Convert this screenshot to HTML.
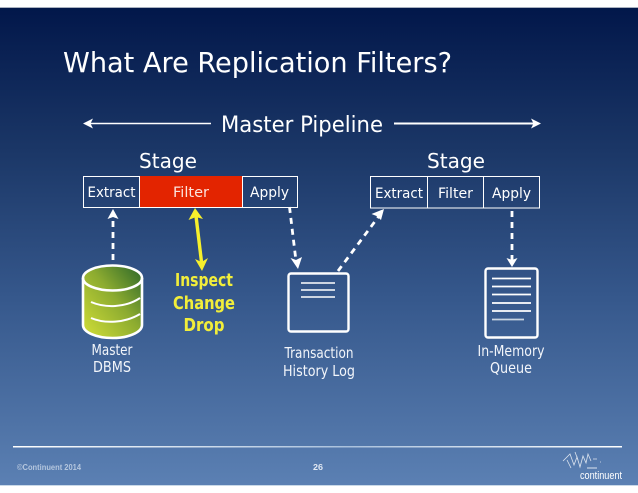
<!DOCTYPE html>
<html><head><meta charset="utf-8"><style>
html,body{margin:0;padding:0;background:#fff}
svg{display:block}
text{font-family:"DejaVu Sans","Liberation Sans",sans-serif}
.g{font-family:"Liberation Sans",sans-serif}
</style></head><body>
<svg width="638" height="493" viewBox="0 0 638 493" xmlns="http://www.w3.org/2000/svg">
<defs>
<linearGradient id="bg" x1="0" y1="0" x2="0" y2="1">
<stop offset="0" stop-color="#02174a"/><stop offset=".3" stop-color="#1b3767"/><stop offset=".6" stop-color="#35578b"/><stop offset="1" stop-color="#5b80b3"/>
</linearGradient>
<linearGradient id="cyl" x1="0" y1="1" x2="1" y2="0">
<stop offset="0" stop-color="#d4e038"/><stop offset=".55" stop-color="#8cab30"/><stop offset="1" stop-color="#2a6629"/>
</linearGradient>
<linearGradient id="fl" x1="0" y1="0" x2="1" y2="0">
<stop offset="0" stop-color="#fff"/><stop offset=".55" stop-color="#a9c0dc"/><stop offset="1" stop-color="#fff"/>
</linearGradient>
</defs>
<rect width="638" height="493" fill="#fff"/>
<rect y="7" width="638" height="1" fill="#aab2c0"/>
<rect y="8" width="638" height="477" fill="url(#bg)"/>
<rect y="485" width="638" height="1" fill="#c9d9e8"/>

<text x="63" y="72" font-size="28" fill="#fff" textLength="389" lengthAdjust="spacingAndGlyphs">What Are Replication Filters?</text>

<g stroke="#fff" fill="none">
<path d="M88 123.500H211" stroke-width="1.400"/>
<path d="M394 123.500H536" stroke-width="2"/>
</g>
<path d="M83 123.500L93 118.500L90.500 123.500L93 128.500Z" fill="#fff"/>
<path d="M541 123.500L531 118.500L533.500 123.500L531 128.500Z" fill="#fff"/>
<text x="221" y="132" font-size="22" fill="#fff" textLength="162" lengthAdjust="spacingAndGlyphs">Master Pipeline</text>

<text x="139" y="168" font-size="20" fill="#fff" textLength="58" lengthAdjust="spacingAndGlyphs">Stage</text>
<text x="427" y="168" font-size="20" fill="#fff" textLength="58" lengthAdjust="spacingAndGlyphs">Stage</text>

<rect x="83.500" y="176.500" width="214" height="31" fill="none" stroke="#fff"/>
<rect x="139" y="176" width="103" height="31" fill="#e32400"/>
<path d="M139.500 176V207M242.500 176V207" stroke="#fff"/>
<text x="87.500" y="197" font-size="14.500" fill="#fff" textLength="48" lengthAdjust="spacingAndGlyphs">Extract</text>
<text x="173" y="197" font-size="14.500" fill="#fbe3dc" textLength="36" lengthAdjust="spacingAndGlyphs">Filter</text>
<text x="250" y="197" font-size="14.500" fill="#fff" textLength="39" lengthAdjust="spacingAndGlyphs">Apply</text>

<rect x="370.500" y="176.500" width="169" height="31.500" fill="none" stroke="#fff"/>
<path d="M427.500 176V208M483.500 176V208" stroke="#fff"/>
<text x="375" y="198" font-size="14.500" fill="#fff" textLength="48" lengthAdjust="spacingAndGlyphs">Extract</text>
<text x="438" y="198" font-size="14.500" fill="#fff" textLength="35" lengthAdjust="spacingAndGlyphs">Filter</text>
<text x="492" y="198" font-size="14.500" fill="#fff" textLength="39" lengthAdjust="spacingAndGlyphs">Apply</text>

<g stroke="#fff" stroke-width="2.800" fill="none" stroke-dasharray="6 5">
<path d="M113 260V217"/>
<path d="M289.500 207L296 261"/>
<path d="M338 271L379 216"/>
<path d="M512 211V261"/>
</g>
<g fill="#fff">
<path d="M113 209L118.500 219L113 217L107.500 219Z"/>
<path d="M298 269L290.500 258L296 260L302 257Z"/>
<path d="M384 209L381 220L376.500 216L371.500 214Z"/>
<path d="M512 267L506.500 258L512 260L517.500 258Z"/>
</g>

<path d="M196 216L201.500 262" stroke="#f6f02c" stroke-width="3.400" fill="none"/>
<path d="M195 208L203 219L196 217L188.500 220Z" fill="#f6f02c"/>
<path d="M202 271L195 259L201.500 262L208 258Z" fill="#f6f02c"/>
<g class="g" font-size="18" font-weight="bold" fill="#f2ee3a" text-anchor="middle">
<text x="204" y="286" textLength="58" lengthAdjust="spacingAndGlyphs">Inspect</text>
<text x="204" y="309" textLength="62" lengthAdjust="spacingAndGlyphs">Change</text>
<text x="204" y="331" textLength="41" lengthAdjust="spacingAndGlyphs">Drop</text>
</g>

<path d="M83 278A29.500 12.500 0 0 1 142 278V325A29.500 13 0 0 1 83 325Z" fill="url(#cyl)" stroke="#fff" stroke-width="2.600"/>
<path d="M83 278A29.500 12.500 0 0 0 142 278" fill="none" stroke="#fff" stroke-width="2.600"/>
<path d="M91 302C105 308 125 308 140 298M91 318C105 324 125 323 140 314" fill="none" stroke="#fff" stroke-width="2"/>
<g class="g" font-size="15" fill="#f2f5fa" text-anchor="middle">
<text x="112" y="355" textLength="41" lengthAdjust="spacingAndGlyphs">Master</text>
<text x="112" y="372" textLength="38" lengthAdjust="spacingAndGlyphs">DBMS</text>
<text x="319" y="358" textLength="69" lengthAdjust="spacingAndGlyphs">Transaction</text>
<text x="319" y="376" textLength="72" lengthAdjust="spacingAndGlyphs">History Log</text>
<text x="511" y="356" textLength="67" lengthAdjust="spacingAndGlyphs">In-Memory</text>
<text x="511" y="373" textLength="42" lengthAdjust="spacingAndGlyphs">Queue</text>
</g>

<rect x="288.500" y="273.500" width="60" height="58" rx="2.500" fill="none" stroke="#fff" stroke-width="2.400"/>
<path d="M301 283H335M301 290H335M301 297H335" stroke="#fff" stroke-width="1.500" fill="none"/>

<rect x="485.500" y="268.500" width="52" height="69" rx="2.500" fill="none" stroke="#fff" stroke-width="2.400"/>
<path d="M492 278.500H531M492 286.500H531M492 294.500H531M492 303H531M492 311H531" stroke="#fff" stroke-width="1.800" fill="none"/>
<path d="M492 319.500H524" stroke="#c8d4e2" stroke-width="1.800" fill="none"/>

<rect x="13" y="446" width="609" height="1.500" fill="url(#fl)"/>
<text class="g" x="17" y="470" font-size="8" font-weight="bold" fill="#b4c6de" textLength="64" lengthAdjust="spacingAndGlyphs">©Continuent 2014</text>
<text class="g" x="313" y="470" font-size="8" font-weight="bold" fill="#e2e9f3" textLength="10" lengthAdjust="spacingAndGlyphs">26</text>
<g stroke="#fff" stroke-width=".8" fill="none" opacity=".8">
<path d="M563 461L570 454L574 465L577 457L580 467L583 456L586 463L588 454L591 461"/>
<path d="M567 460L571 468M575 452L578 460M593 459H597M600 462H601"/>
<path d="M587 468H597" stroke-width="1"/>
</g>
<text class="g" x="580" y="479" font-size="11" fill="#fff" textLength="42" lengthAdjust="spacingAndGlyphs">continuent</text>
</svg>
</body></html>
